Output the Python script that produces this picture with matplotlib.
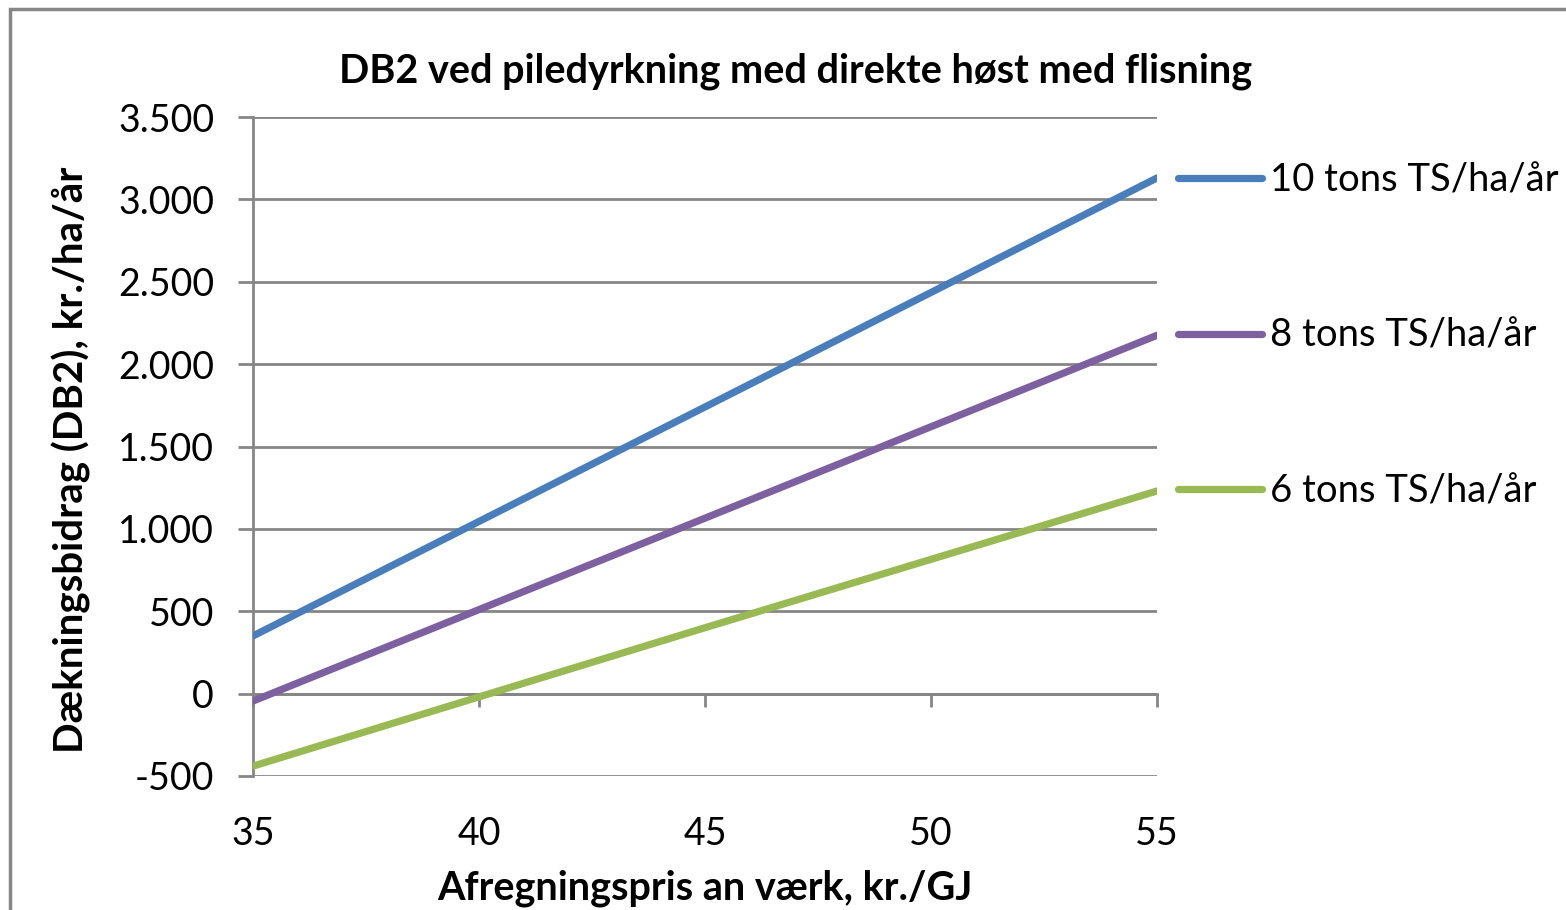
import matplotlib.pyplot as plt
from matplotlib.patches import Rectangle
from matplotlib.ticker import FuncFormatter

plt.rcParams['font.family'] = ['Lato', 'DejaVu Sans']

# afregningspris (kr./GJ)
pris = [35, 40, 45, 50, 55]
# DB2 kr./ha/år per udbytte
db2_10 = [350, 1045, 1740, 2435, 3130]
db2_8 = [-45, 510, 1065, 1620, 2175]
db2_6 = [-440, -20, 400, 815, 1230]
labels = ['10 tons TS/ha/år', '8 tons TS/ha/år', '6 tons TS/ha/år']
colors = ['#4A7EBB', '#7D60A0', '#98B954']

grey = '#868686'

fig = plt.figure(figsize=(15.66, 9.10), dpi=100)
ax = fig.add_axes([253/1566, 1 - 776/910, (1157 - 253)/1566, (776 - 117)/910])

for vals, lab, c in zip([db2_10, db2_8, db2_6], labels, colors):
	ax.plot(pris, vals, color=c, lw=5.2, label=lab, solid_capstyle='round', zorder=3)

ax.set_xlim(35, 55)
ax.set_ylim(-500, 3500)
ax.set_yticks(range(-500, 3501, 500))
ax.set_xticks(pris)
ax.yaxis.set_major_formatter(FuncFormatter(lambda v, p: f"{int(v):,}".replace(',', '.')))

ax.yaxis.grid(True, color=grey, lw=2)
ax.set_axisbelow(True)
for s in ['top', 'right']:
	ax.spines[s].set_visible(False)
ax.spines['left'].set_color(grey)
ax.spines['left'].set_linewidth(2)
ax.spines['bottom'].set_position(('data', 0))
ax.spines['bottom'].set_color(grey)
ax.spines['bottom'].set_linewidth(2)

ax.tick_params(axis='y', direction='out', length=11, width=2, color=grey, labelsize=27, pad=17)
ax.tick_params(axis='x', direction='out', length=9, width=2, color=grey, labelsize=27, pad=79)

ax.set_title('DB2 ved piledyrkning med direkte høst med flisning', fontsize=28.5, fontweight='bold', pad=25, x=0.6)
ax.set_ylabel('Dækningsbidrag (DB2), kr./ha/år', fontsize=29, fontweight='bold')
ax.yaxis.set_label_coords((91 - 253)/904, (776 - 460)/659)
ax.set_xlabel('Afregningspris an værk, kr./GJ', fontsize=28.5, fontweight='bold', labelpad=13)

ax.legend(loc='center left', bbox_to_anchor=(1178/1566, 1 - 336/910), bbox_transform=fig.transFigure,
	frameon=False, fontsize=27.5, labelspacing=3.12, handlelength=2.2, handletextpad=0.22,
	borderpad=0, borderaxespad=0)

fig.patches.append(Rectangle((10/1566, -0.1), 1.2, 1.1 - 9/910, transform=fig.transFigure,
	fill=False, edgecolor=grey, lw=2.5))

fig.savefig('out.png', dpi=100)
